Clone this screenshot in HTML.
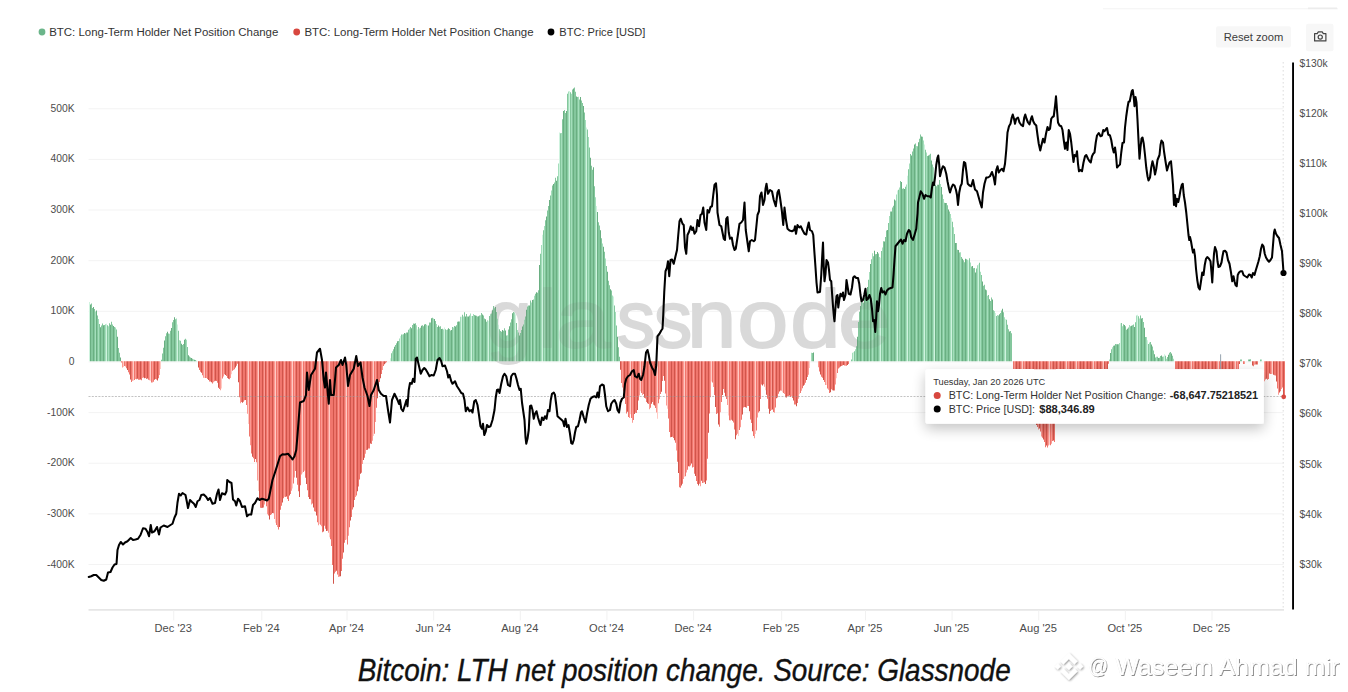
<!DOCTYPE html>
<html><head><meta charset="utf-8"><title>Bitcoin: LTH net position change</title>
<style>
html,body{margin:0;padding:0;background:#fff;}
body{width:1348px;height:692px;overflow:hidden;position:relative;font-family:"Liberation Sans",sans-serif;}
svg{position:absolute;left:0;top:0;display:block}
text{font-family:"Liberation Sans",sans-serif;}
.ax{font-size:10.3px;fill:#4c4c4c;}
.lg{font-size:11.46px;fill:#333;}
</style></head><body>
<svg width="1348" height="692" viewBox="0 0 1348 692">
<defs>
<filter id="tsh" x="-10%" y="-50%" width="120%" height="230%"><feGaussianBlur in="SourceAlpha" stdDeviation="7"/><feOffset dx="0" dy="5"/><feComponentTransfer><feFuncA type="linear" slope="0.24"/></feComponentTransfer><feMerge><feMergeNode/><feMergeNode in="SourceGraphic"/></feMerge></filter>
<filter id="wsh2" x="-20%" y="-20%" width="140%" height="150%"><feGaussianBlur in="SourceAlpha" stdDeviation="1.0"/><feOffset dx="0.5" dy="0.9"/><feComponentTransfer><feFuncA type="linear" slope="0.42"/></feComponentTransfer><feMerge><feMergeNode/><feMergeNode in="SourceGraphic"/></feMerge></filter>
<filter id="wsh" x="-5%" y="-20%" width="110%" height="150%"><feMorphology in="SourceAlpha" operator="erode" radius="0.3" result="thin"/><feGaussianBlur in="thin" stdDeviation="0.75" result="b1"/><feOffset in="b1" dx="0.8" dy="0.9" result="o1"/><feComponentTransfer in="o1" result="s1"><feFuncA type="linear" slope="0.45"/></feComponentTransfer><feMorphology in="thin" operator="dilate" radius="0.45" result="fat"/><feGaussianBlur in="fat" stdDeviation="0.45" result="b2"/><feComponentTransfer in="b2" result="s2"><feFuncA type="linear" slope="0.22"/></feComponentTransfer><feFlood flood-color="#fff"/><feComposite in2="thin" operator="in" result="w"/><feMerge><feMergeNode in="s1"/><feMergeNode in="s2"/><feMergeNode in="w"/></feMerge></filter>
</defs>
<rect width="1348" height="692" fill="#fff"/>

<rect x="1103" y="8.3" width="235" height="1" fill="#f3f3f3"/><rect x="1308" y="7.5" width="29" height="1.6" fill="#ececec"/>
<rect x="88.5" y="108.25" width="1195" height="1" fill="#f3f3f3"/>
<rect x="88.5" y="158.89" width="1195" height="1" fill="#f3f3f3"/>
<rect x="88.5" y="209.53" width="1195" height="1" fill="#f3f3f3"/>
<rect x="88.5" y="260.17" width="1195" height="1" fill="#f3f3f3"/>
<rect x="88.5" y="310.81" width="1195" height="1" fill="#f3f3f3"/>
<rect x="88.5" y="361.45" width="1195" height="1" fill="#f3f3f3"/>
<rect x="88.5" y="412.09" width="1195" height="1" fill="#f3f3f3"/>
<rect x="88.5" y="462.73" width="1195" height="1" fill="#f3f3f3"/>
<rect x="88.5" y="513.37" width="1195" height="1" fill="#f3f3f3"/>
<rect x="88.5" y="564.01" width="1195" height="1" fill="#f3f3f3"/>
<rect x="88.5" y="609.2" width="1195.5" height="1.4" fill="#e0e0e0"/>
<rect x="173.25" y="610.4" width="1" height="10" fill="#f1f1f1"/>
<rect x="261.31" y="610.4" width="1" height="10" fill="#f1f1f1"/>
<rect x="346.53" y="610.4" width="1" height="10" fill="#f1f1f1"/>
<rect x="433.16" y="610.4" width="1" height="10" fill="#f1f1f1"/>
<rect x="519.80" y="610.4" width="1" height="10" fill="#f1f1f1"/>
<rect x="606.44" y="610.4" width="1" height="10" fill="#f1f1f1"/>
<rect x="693.08" y="610.4" width="1" height="10" fill="#f1f1f1"/>
<rect x="781.14" y="610.4" width="1" height="10" fill="#f1f1f1"/>
<rect x="864.94" y="610.4" width="1" height="10" fill="#f1f1f1"/>
<rect x="951.57" y="610.4" width="1" height="10" fill="#f1f1f1"/>
<rect x="1038.21" y="610.4" width="1" height="10" fill="#f1f1f1"/>
<rect x="1124.85" y="610.4" width="1" height="10" fill="#f1f1f1"/>
<rect x="1211.49" y="610.4" width="1" height="10" fill="#f1f1f1"/>
<line x1="1283.2" y1="62" x2="1283.2" y2="609" stroke="#dcdcdc" stroke-width="1" stroke-dasharray="1.6 2.4"/>
<text transform="translate(486.6 347.2) scale(1.0 1)" font-size="82" fill="#e9e9e9" stroke="#e9e9e9" stroke-width="1.8" stroke-linejoin="round">g</text><text transform="translate(538.2 347.2) scale(1.0 1)" font-size="82" fill="#e9e9e9" stroke="#e9e9e9" stroke-width="1.8" stroke-linejoin="round">l</text><text transform="translate(555.8 347.2) scale(1.2 1)" font-size="82" fill="#e9e9e9" stroke="#e9e9e9" stroke-width="1.8" stroke-linejoin="round">a</text><text transform="translate(616.7 347.2) scale(0.94 1)" font-size="82" fill="#e9e9e9" stroke="#e9e9e9" stroke-width="1.8" stroke-linejoin="round">s</text><text transform="translate(653.7 347.2) scale(0.94 1)" font-size="82" fill="#e9e9e9" stroke="#e9e9e9" stroke-width="1.8" stroke-linejoin="round">s</text><text transform="translate(687.1 347.2) scale(1.08 1)" font-size="82" fill="#e9e9e9" stroke="#e9e9e9" stroke-width="1.8" stroke-linejoin="round">n</text><text transform="translate(737.2 347.2) scale(1.12 1)" font-size="82" fill="#e9e9e9" stroke="#e9e9e9" stroke-width="1.8" stroke-linejoin="round">o</text><text transform="translate(790.3 347.2) scale(1.1 1)" font-size="82" fill="#e9e9e9" stroke="#e9e9e9" stroke-width="1.8" stroke-linejoin="round">d</text><text transform="translate(838.0 347.2) scale(1.15 1)" font-size="82" fill="#e9e9e9" stroke="#e9e9e9" stroke-width="1.8" stroke-linejoin="round">e</text>
<path d="M90 361.25V304.5h1V361.25zM93 361.25V307.0h1V361.25zM96 361.25V310.5h1V361.25zM100 361.25V327.3h1V361.25zM103 361.25V325.2h1V361.25zM110 361.25V324.8h1V361.25zM113 361.25V325.9h1V361.25zM117 361.25V336.7h1V361.25zM120 361.25V357.6h1V361.25zM164 361.25V340.4h1V361.25zM167 361.25V331.7h1V361.25zM171 361.25V327.9h1V361.25zM174 361.25V317.3h1V361.25zM181 361.25V343.7h1V361.25zM184 361.25V339.8h1V361.25zM188 361.25V355.3h1V361.25zM191 361.25V358.1h1V361.25zM194 361.25V359.7h1V361.25zM394 361.25V346.7h1V361.25zM397 361.25V341.3h1V361.25zM404 361.25V332.9h1V361.25zM407 361.25V332.4h1V361.25zM411 361.25V328.2h1V361.25zM414 361.25V323.7h1V361.25zM421 361.25V325.8h1V361.25zM424 361.25V324.5h1V361.25zM428 361.25V325.5h1V361.25zM431 361.25V318.3h1V361.25zM434 361.25V319.1h1V361.25zM438 361.25V325.6h1V361.25zM441 361.25V329.1h1V361.25zM448 361.25V328.3h1V361.25zM451 361.25V330.0h1V361.25zM455 361.25V326.5h1V361.25zM458 361.25V321.4h1V361.25zM465 361.25V316.4h1V361.25zM468 361.25V316.6h1V361.25zM475 361.25V315.6h1V361.25zM478 361.25V316.2h1V361.25zM482 361.25V314.6h1V361.25zM485 361.25V319.3h1V361.25zM492 361.25V310.2h1V361.25zM495 361.25V306.9h1V361.25zM502 361.25V329.9h1V361.25zM505 361.25V330.5h1V361.25zM509 361.25V326.3h1V361.25zM512 361.25V313.2h1V361.25zM519 361.25V335.5h1V361.25zM522 361.25V326.6h1V361.25zM526 361.25V309.7h1V361.25zM529 361.25V305.4h1V361.25zM532 361.25V299.9h1V361.25zM536 361.25V292.2h1V361.25zM539 361.25V265.1h1V361.25zM546 361.25V216.5h1V361.25zM549 361.25V200.1h1V361.25zM553 361.25V184.1h1V361.25zM556 361.25V180.8h1V361.25zM563 361.25V111.0h1V361.25zM566 361.25V111.1h1V361.25zM573 361.25V88.5h1V361.25zM576 361.25V96.4h1V361.25zM580 361.25V97.1h1V361.25zM583 361.25V106.1h1V361.25zM590 361.25V157.8h1V361.25zM593 361.25V167.3h1V361.25zM597 361.25V212.0h1V361.25zM600 361.25V230.3h1V361.25zM603 361.25V246.7h1V361.25zM607 361.25V271.8h1V361.25zM610 361.25V289.2h1V361.25zM617 361.25V336.8h1V361.25zM813 361.25V352.6h1V361.25zM857 361.25V336.8h1V361.25zM860 361.25V306.1h1V361.25zM864 361.25V297.6h1V361.25zM867 361.25V287.1h1V361.25zM870 361.25V264.0h1V361.25zM874 361.25V250.7h1V361.25zM877 361.25V252.1h1V361.25zM884 361.25V241.5h1V361.25zM887 361.25V229.9h1V361.25zM891 361.25V211.4h1V361.25zM894 361.25V199.6h1V361.25zM901 361.25V181.9h1V361.25zM904 361.25V189.1h1V361.25zM911 361.25V155.6h1V361.25zM914 361.25V144.6h1V361.25zM918 361.25V142.2h1V361.25zM921 361.25V136.6h1V361.25zM928 361.25V155.4h1V361.25zM931 361.25V160.6h1V361.25zM935 361.25V184.8h1V361.25zM938 361.25V184.7h1V361.25zM941 361.25V187.1h1V361.25zM945 361.25V203.0h1V361.25zM948 361.25V209.4h1V361.25zM955 361.25V243.0h1V361.25zM958 361.25V249.9h1V361.25zM962 361.25V258.8h1V361.25zM965 361.25V258.8h1V361.25zM972 361.25V265.9h1V361.25zM975 361.25V272.4h1V361.25zM982 361.25V281.6h1V361.25zM985 361.25V289.6h1V361.25zM989 361.25V299.3h1V361.25zM992 361.25V299.6h1V361.25zM999 361.25V314.3h1V361.25zM1002 361.25V308.8h1V361.25zM1009 361.25V331.6h1V361.25zM1110 361.25V352.9h1V361.25zM1114 361.25V345.4h1V361.25zM1117 361.25V344.2h1V361.25zM1124 361.25V325.0h1V361.25zM1127 361.25V328.8h1V361.25zM1131 361.25V325.7h1V361.25zM1134 361.25V327.0h1V361.25zM1141 361.25V318.6h1V361.25zM1144 361.25V327.8h1V361.25zM1151 361.25V344.4h1V361.25zM1154 361.25V354.2h1V361.25zM1158 361.25V358.0h1V361.25zM1161 361.25V355.5h1V361.25zM1168 361.25V354.8h1V361.25zM1171 361.25V353.4h1V361.25zM1249 361.25V359.4h1V361.25z" fill="#6aaf82"/>
<path d="M91 361.25V303.6h1V361.25zM92 361.25V308.1h1V361.25zM94 361.25V309.0h1V361.25zM97 361.25V315.6h1V361.25zM99 361.25V324.1h1V361.25zM101 361.25V325.6h1V361.25zM102 361.25V323.5h1V361.25zM104 361.25V325.1h1V361.25zM107 361.25V325.3h1V361.25zM109 361.25V323.3h1V361.25zM111 361.25V321.7h1V361.25zM112 361.25V324.6h1V361.25zM114 361.25V327.1h1V361.25zM116 361.25V329.5h1V361.25zM118 361.25V347.9h1V361.25zM119 361.25V352.7h1V361.25zM161 361.25V359.8h1V361.25zM162 361.25V353.6h1V361.25zM163 361.25V347.8h1V361.25zM165 361.25V336.2h1V361.25zM166 361.25V333.3h1V361.25zM168 361.25V333.5h1V361.25zM170 361.25V330.8h1V361.25zM172 361.25V322.3h1V361.25zM173 361.25V319.9h1V361.25zM175 361.25V319.2h1V361.25zM178 361.25V330.7h1V361.25zM180 361.25V340.8h1V361.25zM182 361.25V345.1h1V361.25zM183 361.25V344.1h1V361.25zM185 361.25V338.7h1V361.25zM187 361.25V346.9h1V361.25zM189 361.25V356.5h1V361.25zM190 361.25V357.4h1V361.25zM192 361.25V358.8h1V361.25zM195 361.25V360.1h1V361.25zM391 361.25V353.3h1V361.25zM393 361.25V349.3h1V361.25zM395 361.25V345.1h1V361.25zM396 361.25V343.2h1V361.25zM398 361.25V340.9h1V361.25zM401 361.25V334.6h1V361.25zM403 361.25V334.2h1V361.25zM405 361.25V333.4h1V361.25zM406 361.25V332.4h1V361.25zM408 361.25V329.8h1V361.25zM410 361.25V327.1h1V361.25zM412 361.25V324.9h1V361.25zM413 361.25V323.5h1V361.25zM415 361.25V323.3h1V361.25zM418 361.25V327.1h1V361.25zM420 361.25V327.8h1V361.25zM422 361.25V325.2h1V361.25zM423 361.25V326.3h1V361.25zM425 361.25V323.9h1V361.25zM429 361.25V322.4h1V361.25zM430 361.25V322.4h1V361.25zM432 361.25V317.7h1V361.25zM435 361.25V321.1h1V361.25zM437 361.25V327.0h1V361.25zM439 361.25V326.7h1V361.25zM440 361.25V326.3h1V361.25zM442 361.25V328.7h1V361.25zM445 361.25V329.3h1V361.25zM447 361.25V329.4h1V361.25zM449 361.25V328.9h1V361.25zM450 361.25V330.4h1V361.25zM452 361.25V327.1h1V361.25zM454 361.25V325.9h1V361.25zM456 361.25V325.3h1V361.25zM457 361.25V321.8h1V361.25zM459 361.25V321.4h1V361.25zM462 361.25V314.8h1V361.25zM464 361.25V312.2h1V361.25zM466 361.25V313.9h1V361.25zM467 361.25V316.4h1V361.25zM469 361.25V315.4h1V361.25zM472 361.25V316.1h1V361.25zM474 361.25V315.0h1V361.25zM476 361.25V315.7h1V361.25zM477 361.25V316.5h1V361.25zM479 361.25V315.5h1V361.25zM481 361.25V313.0h1V361.25zM483 361.25V315.4h1V361.25zM484 361.25V318.4h1V361.25zM486 361.25V321.7h1V361.25zM489 361.25V315.9h1V361.25zM491 361.25V313.4h1V361.25zM493 361.25V306.1h1V361.25zM494 361.25V308.2h1V361.25zM496 361.25V312.1h1V361.25zM499 361.25V329.3h1V361.25zM500 361.25V331.0h1V361.25zM501 361.25V331.8h1V361.25zM503 361.25V330.7h1V361.25zM504 361.25V328.3h1V361.25zM506 361.25V335.4h1V361.25zM508 361.25V329.4h1V361.25zM510 361.25V322.5h1V361.25zM511 361.25V319.3h1V361.25zM513 361.25V312.0h1V361.25zM516 361.25V323.0h1V361.25zM518 361.25V332.6h1V361.25zM520 361.25V332.9h1V361.25zM521 361.25V330.0h1V361.25zM523 361.25V324.5h1V361.25zM525 361.25V316.5h1V361.25zM527 361.25V306.5h1V361.25zM528 361.25V305.5h1V361.25zM530 361.25V300.5h1V361.25zM533 361.25V299.4h1V361.25zM535 361.25V293.8h1V361.25zM537 361.25V292.8h1V361.25zM538 361.25V290.2h1V361.25zM540 361.25V253.7h1V361.25zM543 361.25V230.2h1V361.25zM545 361.25V220.2h1V361.25zM547 361.25V210.6h1V361.25zM548 361.25V206.0h1V361.25zM550 361.25V195.6h1V361.25zM552 361.25V185.5h1V361.25zM554 361.25V182.5h1V361.25zM555 361.25V177.8h1V361.25zM557 361.25V176.3h1V361.25zM560 361.25V133.3h1V361.25zM562 361.25V119.3h1V361.25zM564 361.25V109.9h1V361.25zM565 361.25V113.1h1V361.25zM567 361.25V93.7h1V361.25zM570 361.25V92.2h1V361.25zM572 361.25V89.4h1V361.25zM574 361.25V87.5h1V361.25zM575 361.25V91.7h1V361.25zM577 361.25V96.9h1V361.25zM579 361.25V99.4h1V361.25zM581 361.25V100.4h1V361.25zM582 361.25V103.1h1V361.25zM584 361.25V112.6h1V361.25zM587 361.25V129.5h1V361.25zM589 361.25V147.5h1V361.25zM591 361.25V165.7h1V361.25zM592 361.25V169.8h1V361.25zM594 361.25V186.3h1V361.25zM598 361.25V222.2h1V361.25zM599 361.25V225.6h1V361.25zM601 361.25V238.3h1V361.25zM604 361.25V251.8h1V361.25zM606 361.25V265.9h1V361.25zM608 361.25V280.7h1V361.25zM609 361.25V285.2h1V361.25zM611 361.25V290.6h1V361.25zM614 361.25V305.4h1V361.25zM616 361.25V325.4h1V361.25zM618 361.25V347.2h1V361.25zM619 361.25V356.7h1V361.25zM812 361.25V352.9h1V361.25zM851 361.25V359.5h1V361.25zM854 361.25V351.2h1V361.25zM856 361.25V346.3h1V361.25zM858 361.25V322.1h1V361.25zM859 361.25V311.8h1V361.25zM861 361.25V301.2h1V361.25zM863 361.25V302.9h1V361.25zM865 361.25V296.3h1V361.25zM866 361.25V292.5h1V361.25zM868 361.25V279.8h1V361.25zM871 361.25V259.2h1V361.25zM873 361.25V256.3h1V361.25zM875 361.25V254.3h1V361.25zM876 361.25V254.0h1V361.25zM878 361.25V253.6h1V361.25zM881 361.25V251.1h1V361.25zM883 361.25V241.2h1V361.25zM885 361.25V237.1h1V361.25zM886 361.25V230.4h1V361.25zM888 361.25V223.0h1V361.25zM890 361.25V211.6h1V361.25zM892 361.25V207.4h1V361.25zM893 361.25V205.7h1V361.25zM895 361.25V200.6h1V361.25zM898 361.25V189.8h1V361.25zM900 361.25V181.0h1V361.25zM902 361.25V188.7h1V361.25zM903 361.25V188.2h1V361.25zM905 361.25V186.8h1V361.25zM908 361.25V169.3h1V361.25zM910 361.25V153.9h1V361.25zM912 361.25V151.4h1V361.25zM913 361.25V148.6h1V361.25zM915 361.25V143.6h1V361.25zM917 361.25V146.3h1V361.25zM919 361.25V138.8h1V361.25zM920 361.25V134.6h1V361.25zM922 361.25V136.8h1V361.25zM925 361.25V149.8h1V361.25zM927 361.25V155.9h1V361.25zM929 361.25V154.7h1V361.25zM930 361.25V153.8h1V361.25zM932 361.25V164.4h1V361.25zM936 361.25V186.2h1V361.25zM937 361.25V184.7h1V361.25zM939 361.25V180.0h1V361.25zM942 361.25V194.4h1V361.25zM944 361.25V202.7h1V361.25zM946 361.25V202.9h1V361.25zM947 361.25V205.3h1V361.25zM949 361.25V211.4h1V361.25zM952 361.25V221.7h1V361.25zM954 361.25V234.1h1V361.25zM956 361.25V243.1h1V361.25zM957 361.25V249.8h1V361.25zM959 361.25V252.4h1V361.25zM961 361.25V257.1h1V361.25zM963 361.25V260.3h1V361.25zM964 361.25V262.3h1V361.25zM966 361.25V259.3h1V361.25zM969 361.25V258.2h1V361.25zM971 361.25V266.4h1V361.25zM973 361.25V268.2h1V361.25zM974 361.25V267.9h1V361.25zM976 361.25V268.6h1V361.25zM979 361.25V262.8h1V361.25zM981 361.25V275.0h1V361.25zM983 361.25V285.7h1V361.25zM984 361.25V284.7h1V361.25zM986 361.25V290.3h1V361.25zM988 361.25V295.1h1V361.25zM990 361.25V300.9h1V361.25zM991 361.25V297.6h1V361.25zM993 361.25V310.3h1V361.25zM996 361.25V316.1h1V361.25zM998 361.25V315.4h1V361.25zM1000 361.25V313.1h1V361.25zM1001 361.25V310.4h1V361.25zM1003 361.25V312.3h1V361.25zM1006 361.25V319.7h1V361.25zM1007 361.25V324.8h1V361.25zM1008 361.25V329.3h1V361.25zM1010 361.25V331.0h1V361.25zM1011 361.25V333.2h1V361.25zM1111 361.25V349.2h1V361.25zM1113 361.25V345.8h1V361.25zM1115 361.25V344.1h1V361.25zM1116 361.25V344.2h1V361.25zM1118 361.25V344.2h1V361.25zM1121 361.25V323.1h1V361.25zM1123 361.25V324.3h1V361.25zM1125 361.25V326.3h1V361.25zM1126 361.25V329.8h1V361.25zM1128 361.25V327.4h1V361.25zM1130 361.25V326.3h1V361.25zM1132 361.25V325.3h1V361.25zM1133 361.25V324.6h1V361.25zM1135 361.25V322.3h1V361.25zM1138 361.25V316.3h1V361.25zM1140 361.25V315.6h1V361.25zM1142 361.25V317.9h1V361.25zM1143 361.25V322.1h1V361.25zM1145 361.25V337.0h1V361.25zM1148 361.25V343.9h1V361.25zM1150 361.25V341.9h1V361.25zM1152 361.25V346.5h1V361.25zM1153 361.25V350.5h1V361.25zM1155 361.25V357.5h1V361.25zM1157 361.25V356.8h1V361.25zM1159 361.25V357.8h1V361.25zM1160 361.25V356.1h1V361.25zM1162 361.25V356.7h1V361.25zM1165 361.25V355.8h1V361.25zM1167 361.25V357.1h1V361.25zM1169 361.25V352.8h1V361.25zM1170 361.25V351.9h1V361.25zM1172 361.25V355.8h1V361.25zM1240 361.25V359.4h1V361.25zM1241 361.25V359.5h1V361.25zM1248 361.25V359.5h1V361.25zM1250 361.25V359.3h1V361.25zM1260 361.25V359.4h1V361.25z" fill="#84c79d"/>
<path d="M95 361.25V311.6h1V361.25zM98 361.25V319.0h1V361.25zM105 361.25V324.3h1V361.25zM108 361.25V326.2h1V361.25zM115 361.25V327.5h1V361.25zM169 361.25V333.8h1V361.25zM176 361.25V318.6h1V361.25zM179 361.25V340.2h1V361.25zM186 361.25V339.8h1V361.25zM193 361.25V359.2h1V361.25zM196 361.25V360.7h1V361.25zM392 361.25V351.2h1V361.25zM399 361.25V338.6h1V361.25zM402 361.25V334.6h1V361.25zM409 361.25V328.4h1V361.25zM416 361.25V325.2h1V361.25zM419 361.25V328.4h1V361.25zM426 361.25V324.8h1V361.25zM433 361.25V318.4h1V361.25zM436 361.25V324.1h1V361.25zM443 361.25V329.6h1V361.25zM446 361.25V329.9h1V361.25zM453 361.25V327.5h1V361.25zM460 361.25V316.8h1V361.25zM463 361.25V316.6h1V361.25zM470 361.25V313.5h1V361.25zM473 361.25V314.1h1V361.25zM480 361.25V315.2h1V361.25zM487 361.25V320.3h1V361.25zM490 361.25V314.2h1V361.25zM497 361.25V318.8h1V361.25zM507 361.25V335.2h1V361.25zM514 361.25V312.6h1V361.25zM517 361.25V330.0h1V361.25zM524 361.25V319.7h1V361.25zM531 361.25V302.4h1V361.25zM534 361.25V295.7h1V361.25zM541 361.25V245.0h1V361.25zM544 361.25V225.9h1V361.25zM551 361.25V190.4h1V361.25zM558 361.25V163.4h1V361.25zM561 361.25V133.0h1V361.25zM568 361.25V91.4h1V361.25zM571 361.25V93.8h1V361.25zM578 361.25V96.7h1V361.25zM585 361.25V120.1h1V361.25zM588 361.25V136.9h1V361.25zM595 361.25V197.2h1V361.25zM602 361.25V243.5h1V361.25zM605 361.25V258.4h1V361.25zM612 361.25V295.4h1V361.25zM615 361.25V312.0h1V361.25zM811 361.25V352.7h1V361.25zM852 361.25V352.8h1V361.25zM855 361.25V349.3h1V361.25zM862 361.25V301.2h1V361.25zM869 361.25V272.0h1V361.25zM872 361.25V253.3h1V361.25zM879 361.25V257.1h1V361.25zM882 361.25V247.6h1V361.25zM889 361.25V215.9h1V361.25zM896 361.25V194.6h1V361.25zM899 361.25V187.4h1V361.25zM906 361.25V184.5h1V361.25zM909 361.25V163.4h1V361.25zM916 361.25V146.1h1V361.25zM923 361.25V140.4h1V361.25zM926 361.25V152.6h1V361.25zM933 361.25V167.3h1V361.25zM940 361.25V184.1h1V361.25zM943 361.25V199.0h1V361.25zM950 361.25V214.0h1V361.25zM953 361.25V227.2h1V361.25zM960 361.25V252.3h1V361.25zM967 361.25V259.7h1V361.25zM970 361.25V262.5h1V361.25zM977 361.25V265.3h1V361.25zM980 361.25V271.7h1V361.25zM987 361.25V295.7h1V361.25zM994 361.25V311.1h1V361.25zM997 361.25V314.9h1V361.25zM1004 361.25V317.3h1V361.25zM1109 361.25V359.5h1V361.25zM1112 361.25V347.3h1V361.25zM1119 361.25V343.0h1V361.25zM1122 361.25V326.3h1V361.25zM1129 361.25V324.9h1V361.25zM1136 361.25V315.5h1V361.25zM1139 361.25V318.5h1V361.25zM1146 361.25V337.1h1V361.25zM1149 361.25V342.6h1V361.25zM1156 361.25V356.8h1V361.25zM1163 361.25V356.6h1V361.25zM1166 361.25V358.8h1V361.25zM1173 361.25V358.8h1V361.25zM1261 361.25V359.6h1V361.25z" fill="#a4debb"/>
<path d="M89 361.25V301.9h1V361.25zM106 361.25V323.7h1V361.25zM177 361.25V324.5h1V361.25zM390 361.25V358.2h1V361.25zM400 361.25V336.1h1V361.25zM417 361.25V329.6h1V361.25zM427 361.25V325.6h1V361.25zM444 361.25V327.6h1V361.25zM461 361.25V316.7h1V361.25zM471 361.25V315.9h1V361.25zM488 361.25V320.7h1V361.25zM498 361.25V324.7h1V361.25zM515 361.25V314.3h1V361.25zM542 361.25V234.8h1V361.25zM559 361.25V132.4h1V361.25zM569 361.25V90.9h1V361.25zM586 361.25V127.6h1V361.25zM596 361.25V205.9h1V361.25zM613 361.25V296.5h1V361.25zM853 361.25V352.1h1V361.25zM880 361.25V257.7h1V361.25zM897 361.25V190.4h1V361.25zM907 361.25V175.8h1V361.25zM924 361.25V144.6h1V361.25zM934 361.25V176.7h1V361.25zM951 361.25V217.9h1V361.25zM968 361.25V260.3h1V361.25zM978 361.25V264.2h1V361.25zM995 361.25V313.0h1V361.25zM1005 361.25V319.1h1V361.25zM1120 361.25V323.3h1V361.25zM1137 361.25V314.8h1V361.25zM1147 361.25V340.3h1V361.25zM1164 361.25V354.2h1V361.25z" fill="#cff3df"/>
<path d="M127 361.25V370.1h1V361.25zM130 361.25V379.4h1V361.25zM137 361.25V378.8h1V361.25zM140 361.25V379.5h1V361.25zM144 361.25V378.3h1V361.25zM147 361.25V378.5h1V361.25zM154 361.25V379.8h1V361.25zM157 361.25V380.6h1V361.25zM198 361.25V367.5h1V361.25zM201 361.25V372.8h1V361.25zM208 361.25V380.0h1V361.25zM211 361.25V382.3h1V361.25zM215 361.25V380.7h1V361.25zM218 361.25V387.7h1V361.25zM225 361.25V374.9h1V361.25zM228 361.25V378.8h1V361.25zM235 361.25V367.5h1V361.25zM238 361.25V382.3h1V361.25zM242 361.25V402.8h1V361.25zM245 361.25V399.9h1V361.25zM252 361.25V456.7h1V361.25zM255 361.25V459.1h1V361.25zM259 361.25V500.7h1V361.25zM262 361.25V507.8h1V361.25zM265 361.25V501.0h1V361.25zM269 361.25V519.4h1V361.25zM272 361.25V512.9h1V361.25zM279 361.25V527.1h1V361.25zM282 361.25V502.4h1V361.25zM286 361.25V496.4h1V361.25zM289 361.25V495.5h1V361.25zM296 361.25V477.8h1V361.25zM299 361.25V497.1h1V361.25zM306 361.25V483.9h1V361.25zM309 361.25V498.9h1V361.25zM313 361.25V507.4h1V361.25zM316 361.25V515.5h1V361.25zM323 361.25V531.6h1V361.25zM326 361.25V531.0h1V361.25zM333 361.25V583.8h1V361.25zM336 361.25V570.7h1V361.25zM340 361.25V576.3h1V361.25zM343 361.25V552.4h1V361.25zM350 361.25V520.4h1V361.25zM353 361.25V507.2h1V361.25zM357 361.25V491.2h1V361.25zM360 361.25V473.7h1V361.25zM363 361.25V460.0h1V361.25zM367 361.25V449.7h1V361.25zM370 361.25V443.4h1V361.25zM377 361.25V398.3h1V361.25zM380 361.25V378.2h1V361.25zM384 361.25V364.2h1V361.25zM620 361.25V369.8h1V361.25zM624 361.25V398.0h1V361.25zM627 361.25V411.7h1V361.25zM634 361.25V414.0h1V361.25zM637 361.25V409.9h1V361.25zM644 361.25V397.8h1V361.25zM647 361.25V403.3h1V361.25zM651 361.25V403.8h1V361.25zM654 361.25V405.6h1V361.25zM661 361.25V391.7h1V361.25zM664 361.25V380.7h1V361.25zM671 361.25V437.0h1V361.25zM674 361.25V440.3h1V361.25zM678 361.25V472.9h1V361.25zM681 361.25V485.5h1V361.25zM688 361.25V466.3h1V361.25zM691 361.25V463.5h1V361.25zM695 361.25V475.9h1V361.25zM698 361.25V485.5h1V361.25zM701 361.25V480.7h1V361.25zM705 361.25V484.1h1V361.25zM708 361.25V432.8h1V361.25zM715 361.25V407.1h1V361.25zM718 361.25V424.6h1V361.25zM722 361.25V394.9h1V361.25zM725 361.25V396.2h1V361.25zM732 361.25V420.8h1V361.25zM735 361.25V439.2h1V361.25zM742 361.25V414.5h1V361.25zM745 361.25V407.3h1V361.25zM749 361.25V411.2h1V361.25zM752 361.25V431.3h1V361.25zM759 361.25V411.2h1V361.25zM762 361.25V385.4h1V361.25zM766 361.25V394.7h1V361.25zM769 361.25V413.7h1V361.25zM772 361.25V409.5h1V361.25zM776 361.25V398.3h1V361.25zM779 361.25V391.6h1V361.25zM786 361.25V397.6h1V361.25zM789 361.25V395.4h1V361.25zM793 361.25V400.6h1V361.25zM796 361.25V406.2h1V361.25zM803 361.25V385.7h1V361.25zM806 361.25V379.9h1V361.25zM820 361.25V374.6h1V361.25zM823 361.25V380.0h1V361.25zM830 361.25V392.3h1V361.25zM833 361.25V390.4h1V361.25zM840 361.25V366.5h1V361.25zM843 361.25V365.1h1V361.25zM847 361.25V365.0h1V361.25zM1016 361.25V369.0h1V361.25zM1019 361.25V369.0h1V361.25zM1026 361.25V369.0h1V361.25zM1029 361.25V369.0h1V361.25zM1033 361.25V369.0h1V361.25zM1036 361.25V425.0h1V361.25zM1039 361.25V428.6h1V361.25zM1043 361.25V439.5h1V361.25zM1046 361.25V445.4h1V361.25zM1053 361.25V440.4h1V361.25zM1056 361.25V369.0h1V361.25zM1060 361.25V369.0h1V361.25zM1063 361.25V369.0h1V361.25zM1070 361.25V369.0h1V361.25zM1073 361.25V369.0h1V361.25zM1080 361.25V369.0h1V361.25zM1083 361.25V369.0h1V361.25zM1087 361.25V369.0h1V361.25zM1090 361.25V369.0h1V361.25zM1097 361.25V369.0h1V361.25zM1100 361.25V369.0h1V361.25zM1104 361.25V369.0h1V361.25zM1107 361.25V369.0h1V361.25zM1178 361.25V369.3h1V361.25zM1181 361.25V369.3h1V361.25zM1185 361.25V369.3h1V361.25zM1188 361.25V369.3h1V361.25zM1195 361.25V369.3h1V361.25zM1198 361.25V369.3h1V361.25zM1202 361.25V369.3h1V361.25zM1205 361.25V369.3h1V361.25zM1208 361.25V369.3h1V361.25zM1212 361.25V369.3h1V361.25zM1215 361.25V369.3h1V361.25zM1222 361.25V369.3h1V361.25zM1225 361.25V369.3h1V361.25zM1229 361.25V369.3h1V361.25zM1232 361.25V369.3h1V361.25zM1239 361.25V363.9h1V361.25zM1252 361.25V365.6h1V361.25zM1256 361.25V364.6h1V361.25zM1266 361.25V378.7h1V361.25zM1269 361.25V373.4h1V361.25zM1273 361.25V374.7h1V361.25zM1276 361.25V381.6h1V361.25zM1279 361.25V392.5h1V361.25zM1283 361.25V396.8h1V361.25z" fill="#d1554b"/>
<path d="M121 361.25V362.5h1V361.25zM124 361.25V366.1h1V361.25zM126 361.25V368.2h1V361.25zM128 361.25V372.3h1V361.25zM129 361.25V374.6h1V361.25zM131 361.25V382.0h1V361.25zM134 361.25V380.1h1V361.25zM136 361.25V379.2h1V361.25zM138 361.25V379.7h1V361.25zM139 361.25V379.8h1V361.25zM141 361.25V380.3h1V361.25zM143 361.25V377.6h1V361.25zM145 361.25V377.9h1V361.25zM146 361.25V378.9h1V361.25zM148 361.25V379.8h1V361.25zM151 361.25V382.5h1V361.25zM153 361.25V381.7h1V361.25zM155 361.25V379.1h1V361.25zM156 361.25V379.4h1V361.25zM158 361.25V378.2h1V361.25zM199 361.25V369.9h1V361.25zM200 361.25V371.8h1V361.25zM202 361.25V375.2h1V361.25zM205 361.25V377.9h1V361.25zM207 361.25V379.0h1V361.25zM209 361.25V381.4h1V361.25zM210 361.25V381.6h1V361.25zM212 361.25V383.4h1V361.25zM214 361.25V381.2h1V361.25zM216 361.25V381.1h1V361.25zM217 361.25V382.8h1V361.25zM219 361.25V388.9h1V361.25zM222 361.25V378.6h1V361.25zM224 361.25V374.3h1V361.25zM226 361.25V376.1h1V361.25zM227 361.25V378.1h1V361.25zM229 361.25V379.2h1V361.25zM232 361.25V370.8h1V361.25zM234 361.25V369.2h1V361.25zM236 361.25V365.7h1V361.25zM237 361.25V363.8h1V361.25zM239 361.25V397.2h1V361.25zM241 361.25V401.9h1V361.25zM243 361.25V401.7h1V361.25zM244 361.25V400.3h1V361.25zM246 361.25V405.1h1V361.25zM249 361.25V436.4h1V361.25zM251 361.25V453.4h1V361.25zM253 361.25V458.3h1V361.25zM254 361.25V462.1h1V361.25zM256 361.25V462.2h1V361.25zM260 361.25V507.7h1V361.25zM261 361.25V508.1h1V361.25zM263 361.25V507.5h1V361.25zM266 361.25V506.3h1V361.25zM268 361.25V515.4h1V361.25zM270 361.25V515.0h1V361.25zM271 361.25V514.2h1V361.25zM273 361.25V513.3h1V361.25zM276 361.25V524.9h1V361.25zM278 361.25V529.4h1V361.25zM280 361.25V509.7h1V361.25zM281 361.25V505.7h1V361.25zM283 361.25V498.2h1V361.25zM285 361.25V497.1h1V361.25zM287 361.25V499.1h1V361.25zM288 361.25V501.0h1V361.25zM290 361.25V494.0h1V361.25zM293 361.25V483.5h1V361.25zM295 361.25V471.1h1V361.25zM297 361.25V484.7h1V361.25zM298 361.25V491.3h1V361.25zM300 361.25V485.3h1V361.25zM303 361.25V472.1h1V361.25zM305 361.25V477.8h1V361.25zM307 361.25V490.2h1V361.25zM308 361.25V497.1h1V361.25zM310 361.25V499.3h1V361.25zM312 361.25V503.5h1V361.25zM314 361.25V511.3h1V361.25zM315 361.25V511.8h1V361.25zM317 361.25V522.3h1V361.25zM320 361.25V524.8h1V361.25zM322 361.25V532.3h1V361.25zM324 361.25V525.7h1V361.25zM325 361.25V528.7h1V361.25zM327 361.25V530.8h1V361.25zM330 361.25V539.3h1V361.25zM331 361.25V546.0h1V361.25zM332 361.25V564.9h1V361.25zM334 361.25V573.6h1V361.25zM335 361.25V571.8h1V361.25zM337 361.25V574.4h1V361.25zM339 361.25V576.4h1V361.25zM341 361.25V570.9h1V361.25zM342 361.25V558.7h1V361.25zM344 361.25V542.7h1V361.25zM347 361.25V544.6h1V361.25zM349 361.25V527.3h1V361.25zM351 361.25V517.1h1V361.25zM352 361.25V509.6h1V361.25zM354 361.25V500.0h1V361.25zM356 361.25V495.4h1V361.25zM358 361.25V486.4h1V361.25zM359 361.25V479.6h1V361.25zM361 361.25V472.7h1V361.25zM364 361.25V457.7h1V361.25zM366 361.25V450.0h1V361.25zM368 361.25V448.5h1V361.25zM369 361.25V448.4h1V361.25zM371 361.25V444.0h1V361.25zM374 361.25V433.8h1V361.25zM376 361.25V407.8h1V361.25zM378 361.25V388.5h1V361.25zM379 361.25V381.9h1V361.25zM381 361.25V374.0h1V361.25zM383 361.25V366.1h1V361.25zM385 361.25V363.2h1V361.25zM386 361.25V362.2h1V361.25zM621 361.25V383.1h1V361.25zM623 361.25V391.4h1V361.25zM625 361.25V404.1h1V361.25zM626 361.25V413.4h1V361.25zM628 361.25V416.9h1V361.25zM631 361.25V418.0h1V361.25zM633 361.25V420.0h1V361.25zM635 361.25V412.8h1V361.25zM636 361.25V413.0h1V361.25zM638 361.25V400.5h1V361.25zM641 361.25V393.1h1V361.25zM643 361.25V394.1h1V361.25zM645 361.25V398.5h1V361.25zM646 361.25V401.9h1V361.25zM648 361.25V403.9h1V361.25zM650 361.25V407.7h1V361.25zM652 361.25V401.9h1V361.25zM653 361.25V404.7h1V361.25zM655 361.25V408.1h1V361.25zM658 361.25V403.2h1V361.25zM660 361.25V394.1h1V361.25zM662 361.25V380.9h1V361.25zM663 361.25V376.1h1V361.25zM665 361.25V393.5h1V361.25zM668 361.25V418.5h1V361.25zM669 361.25V431.9h1V361.25zM670 361.25V437.2h1V361.25zM672 361.25V436.8h1V361.25zM673 361.25V438.1h1V361.25zM675 361.25V442.7h1V361.25zM677 361.25V461.7h1V361.25zM679 361.25V487.3h1V361.25zM680 361.25V487.7h1V361.25zM682 361.25V483.8h1V361.25zM685 361.25V476.2h1V361.25zM687 361.25V469.7h1V361.25zM689 361.25V466.4h1V361.25zM690 361.25V465.5h1V361.25zM692 361.25V467.4h1V361.25zM694 361.25V473.8h1V361.25zM696 361.25V480.9h1V361.25zM697 361.25V483.9h1V361.25zM699 361.25V483.7h1V361.25zM702 361.25V483.0h1V361.25zM704 361.25V482.3h1V361.25zM706 361.25V480.5h1V361.25zM707 361.25V458.8h1V361.25zM709 361.25V413.5h1V361.25zM712 361.25V382.4h1V361.25zM714 361.25V395.0h1V361.25zM716 361.25V413.9h1V361.25zM717 361.25V413.3h1V361.25zM719 361.25V426.7h1V361.25zM721 361.25V402.0h1V361.25zM723 361.25V389.1h1V361.25zM724 361.25V392.8h1V361.25zM726 361.25V399.1h1V361.25zM729 361.25V420.2h1V361.25zM731 361.25V419.8h1V361.25zM733 361.25V422.4h1V361.25zM734 361.25V429.4h1V361.25zM736 361.25V435.2h1V361.25zM739 361.25V430.1h1V361.25zM741 361.25V419.7h1V361.25zM743 361.25V407.4h1V361.25zM744 361.25V406.9h1V361.25zM746 361.25V407.8h1V361.25zM748 361.25V406.0h1V361.25zM750 361.25V419.4h1V361.25zM751 361.25V423.1h1V361.25zM753 361.25V436.1h1V361.25zM756 361.25V430.5h1V361.25zM758 361.25V412.6h1V361.25zM760 361.25V399.1h1V361.25zM761 361.25V384.6h1V361.25zM763 361.25V384.3h1V361.25zM767 361.25V398.8h1V361.25zM768 361.25V408.7h1V361.25zM770 361.25V411.1h1V361.25zM773 361.25V411.9h1V361.25zM775 361.25V407.6h1V361.25zM777 361.25V397.6h1V361.25zM778 361.25V393.7h1V361.25zM780 361.25V390.6h1V361.25zM783 361.25V392.9h1V361.25zM785 361.25V397.3h1V361.25zM787 361.25V396.5h1V361.25zM788 361.25V395.9h1V361.25zM790 361.25V397.1h1V361.25zM792 361.25V398.1h1V361.25zM794 361.25V404.5h1V361.25zM795 361.25V404.6h1V361.25zM797 361.25V403.1h1V361.25zM800 361.25V393.0h1V361.25zM802 361.25V388.3h1V361.25zM804 361.25V384.7h1V361.25zM805 361.25V382.8h1V361.25zM807 361.25V377.0h1V361.25zM819 361.25V371.6h1V361.25zM821 361.25V376.7h1V361.25zM822 361.25V377.8h1V361.25zM824 361.25V381.9h1V361.25zM827 361.25V388.4h1V361.25zM829 361.25V392.9h1V361.25zM831 361.25V389.3h1V361.25zM832 361.25V390.2h1V361.25zM834 361.25V390.6h1V361.25zM837 361.25V373.0h1V361.25zM838 361.25V368.6h1V361.25zM839 361.25V367.4h1V361.25zM841 361.25V366.1h1V361.25zM842 361.25V365.5h1V361.25zM844 361.25V365.6h1V361.25zM846 361.25V365.8h1V361.25zM848 361.25V364.0h1V361.25zM1013 361.25V369.0h1V361.25zM1015 361.25V369.0h1V361.25zM1017 361.25V369.0h1V361.25zM1018 361.25V369.0h1V361.25zM1020 361.25V369.0h1V361.25zM1023 361.25V369.0h1V361.25zM1025 361.25V369.0h1V361.25zM1027 361.25V369.0h1V361.25zM1028 361.25V369.0h1V361.25zM1030 361.25V369.0h1V361.25zM1032 361.25V369.0h1V361.25zM1034 361.25V411.0h1V361.25zM1035 361.25V422.6h1V361.25zM1037 361.25V427.0h1V361.25zM1040 361.25V431.4h1V361.25zM1042 361.25V437.7h1V361.25zM1044 361.25V442.1h1V361.25zM1045 361.25V447.2h1V361.25zM1047 361.25V447.6h1V361.25zM1050 361.25V445.3h1V361.25zM1052 361.25V440.9h1V361.25zM1054 361.25V442.0h1V361.25zM1055 361.25V419.8h1V361.25zM1057 361.25V369.0h1V361.25zM1059 361.25V369.0h1V361.25zM1061 361.25V369.0h1V361.25zM1062 361.25V369.0h1V361.25zM1064 361.25V369.0h1V361.25zM1067 361.25V369.0h1V361.25zM1069 361.25V369.0h1V361.25zM1071 361.25V369.0h1V361.25zM1072 361.25V369.0h1V361.25zM1074 361.25V369.0h1V361.25zM1077 361.25V369.0h1V361.25zM1079 361.25V369.0h1V361.25zM1081 361.25V369.0h1V361.25zM1082 361.25V369.0h1V361.25zM1084 361.25V369.0h1V361.25zM1086 361.25V369.0h1V361.25zM1088 361.25V369.0h1V361.25zM1089 361.25V369.0h1V361.25zM1091 361.25V369.0h1V361.25zM1094 361.25V369.0h1V361.25zM1096 361.25V369.0h1V361.25zM1098 361.25V369.0h1V361.25zM1099 361.25V369.0h1V361.25zM1101 361.25V369.0h1V361.25zM1105 361.25V369.0h1V361.25zM1106 361.25V369.0h1V361.25zM1108 361.25V363.8h1V361.25zM1175 361.25V369.3h1V361.25zM1176 361.25V369.3h1V361.25zM1177 361.25V369.3h1V361.25zM1179 361.25V369.3h1V361.25zM1180 361.25V369.3h1V361.25zM1182 361.25V369.3h1V361.25zM1184 361.25V369.3h1V361.25zM1186 361.25V369.3h1V361.25zM1187 361.25V369.3h1V361.25zM1189 361.25V369.3h1V361.25zM1192 361.25V369.3h1V361.25zM1194 361.25V369.3h1V361.25zM1196 361.25V369.3h1V361.25zM1197 361.25V369.3h1V361.25zM1199 361.25V369.3h1V361.25zM1201 361.25V369.3h1V361.25zM1203 361.25V369.3h1V361.25zM1204 361.25V369.3h1V361.25zM1206 361.25V369.3h1V361.25zM1209 361.25V369.3h1V361.25zM1211 361.25V369.3h1V361.25zM1213 361.25V369.3h1V361.25zM1214 361.25V369.3h1V361.25zM1216 361.25V369.3h1V361.25zM1219 361.25V369.3h1V361.25zM1221 361.25V369.3h1V361.25zM1223 361.25V369.3h1V361.25zM1224 361.25V369.3h1V361.25zM1226 361.25V369.3h1V361.25zM1228 361.25V369.3h1V361.25zM1230 361.25V369.3h1V361.25zM1231 361.25V369.3h1V361.25zM1233 361.25V369.3h1V361.25zM1236 361.25V369.3h1V361.25zM1238 361.25V369.3h1V361.25zM1243 361.25V364.0h1V361.25zM1253 361.25V366.2h1V361.25zM1255 361.25V364.6h1V361.25zM1257 361.25V364.5h1V361.25zM1265 361.25V379.6h1V361.25zM1267 361.25V379.8h1V361.25zM1268 361.25V379.1h1V361.25zM1270 361.25V374.0h1V361.25zM1274 361.25V375.2h1V361.25zM1275 361.25V375.5h1V361.25zM1277 361.25V388.6h1V361.25zM1280 361.25V391.3h1V361.25zM1282 361.25V387.5h1V361.25zM1284 361.25V395.3h1V361.25z" fill="#f0766d"/>
<path d="M122 361.25V367.4h1V361.25zM125 361.25V366.6h1V361.25zM132 361.25V380.8h1V361.25zM135 361.25V379.0h1V361.25zM142 361.25V378.0h1V361.25zM149 361.25V380.3h1V361.25zM152 361.25V382.6h1V361.25zM159 361.25V375.0h1V361.25zM203 361.25V377.7h1V361.25zM206 361.25V378.0h1V361.25zM213 361.25V382.2h1V361.25zM220 361.25V390.2h1V361.25zM223 361.25V376.6h1V361.25zM230 361.25V378.0h1V361.25zM233 361.25V370.0h1V361.25zM240 361.25V403.2h1V361.25zM247 361.25V413.7h1V361.25zM250 361.25V445.3h1V361.25zM257 361.25V480.6h1V361.25zM264 361.25V504.4h1V361.25zM267 361.25V514.3h1V361.25zM274 361.25V518.9h1V361.25zM277 361.25V527.0h1V361.25zM284 361.25V496.8h1V361.25zM291 361.25V490.8h1V361.25zM294 361.25V477.5h1V361.25zM301 361.25V474.4h1V361.25zM304 361.25V470.8h1V361.25zM311 361.25V504.4h1V361.25zM318 361.25V525.2h1V361.25zM321 361.25V526.2h1V361.25zM328 361.25V532.7h1V361.25zM338 361.25V576.9h1V361.25zM345 361.25V540.1h1V361.25zM348 361.25V535.7h1V361.25zM355 361.25V496.9h1V361.25zM362 361.25V463.9h1V361.25zM365 361.25V453.8h1V361.25zM372 361.25V440.7h1V361.25zM375 361.25V422.0h1V361.25zM382 361.25V370.0h1V361.25zM622 361.25V387.5h1V361.25zM629 361.25V417.9h1V361.25zM632 361.25V422.7h1V361.25zM639 361.25V395.4h1V361.25zM642 361.25V395.1h1V361.25zM649 361.25V409.2h1V361.25zM656 361.25V412.5h1V361.25zM659 361.25V399.3h1V361.25zM666 361.25V405.5h1V361.25zM676 361.25V450.4h1V361.25zM683 361.25V479.1h1V361.25zM686 361.25V472.6h1V361.25zM693 361.25V466.9h1V361.25zM700 361.25V486.2h1V361.25zM703 361.25V482.8h1V361.25zM710 361.25V397.2h1V361.25zM713 361.25V387.0h1V361.25zM720 361.25V412.3h1V361.25zM727 361.25V404.9h1V361.25zM730 361.25V420.5h1V361.25zM737 361.25V433.8h1V361.25zM740 361.25V427.2h1V361.25zM747 361.25V406.0h1V361.25zM754 361.25V438.3h1V361.25zM757 361.25V417.4h1V361.25zM764 361.25V386.7h1V361.25zM771 361.25V410.1h1V361.25zM774 361.25V412.8h1V361.25zM781 361.25V390.7h1V361.25zM784 361.25V394.0h1V361.25zM791 361.25V396.1h1V361.25zM798 361.25V398.7h1V361.25zM801 361.25V390.8h1V361.25zM808 361.25V374.7h1V361.25zM818 361.25V367.2h1V361.25zM825 361.25V384.9h1V361.25zM828 361.25V389.7h1V361.25zM835 361.25V384.4h1V361.25zM845 361.25V365.7h1V361.25zM1014 361.25V369.0h1V361.25zM1021 361.25V369.0h1V361.25zM1024 361.25V369.0h1V361.25zM1031 361.25V369.0h1V361.25zM1038 361.25V429.5h1V361.25zM1041 361.25V436.6h1V361.25zM1048 361.25V445.5h1V361.25zM1051 361.25V443.8h1V361.25zM1058 361.25V369.0h1V361.25zM1065 361.25V369.0h1V361.25zM1068 361.25V369.0h1V361.25zM1075 361.25V369.0h1V361.25zM1078 361.25V369.0h1V361.25zM1085 361.25V369.0h1V361.25zM1092 361.25V369.0h1V361.25zM1095 361.25V369.0h1V361.25zM1102 361.25V369.0h1V361.25zM1183 361.25V369.3h1V361.25zM1190 361.25V369.3h1V361.25zM1193 361.25V369.3h1V361.25zM1200 361.25V369.3h1V361.25zM1207 361.25V369.3h1V361.25zM1210 361.25V369.3h1V361.25zM1217 361.25V369.3h1V361.25zM1220 361.25V369.3h1V361.25zM1227 361.25V369.3h1V361.25zM1234 361.25V369.3h1V361.25zM1237 361.25V369.3h1V361.25zM1244 361.25V364.0h1V361.25zM1254 361.25V364.7h1V361.25zM1264 361.25V381.2h1V361.25zM1271 361.25V373.9h1V361.25zM1278 361.25V394.8h1V361.25zM1281 361.25V389.0h1V361.25z" fill="#fb9a93"/>
<path d="M123 361.25V366.9h1V361.25zM133 361.25V380.7h1V361.25zM150 361.25V380.7h1V361.25zM160 361.25V369.0h1V361.25zM204 361.25V378.0h1V361.25zM221 361.25V388.5h1V361.25zM231 361.25V374.2h1V361.25zM248 361.25V424.1h1V361.25zM258 361.25V491.0h1V361.25zM275 361.25V522.8h1V361.25zM292 361.25V488.6h1V361.25zM302 361.25V473.3h1V361.25zM319 361.25V524.0h1V361.25zM329 361.25V537.3h1V361.25zM346 361.25V539.6h1V361.25zM373 361.25V436.0h1V361.25zM630 361.25V414.3h1V361.25zM640 361.25V391.3h1V361.25zM657 361.25V418.7h1V361.25zM667 361.25V408.7h1V361.25zM684 361.25V476.7h1V361.25zM711 361.25V381.4h1V361.25zM728 361.25V415.5h1V361.25zM738 361.25V435.9h1V361.25zM755 361.25V434.0h1V361.25zM765 361.25V390.2h1V361.25zM782 361.25V392.3h1V361.25zM799 361.25V394.2h1V361.25zM809 361.25V368.0h1V361.25zM826 361.25V385.1h1V361.25zM836 361.25V378.2h1V361.25zM1022 361.25V369.0h1V361.25zM1049 361.25V444.8h1V361.25zM1066 361.25V369.0h1V361.25zM1076 361.25V369.0h1V361.25zM1093 361.25V369.0h1V361.25zM1103 361.25V369.0h1V361.25zM1191 361.25V369.3h1V361.25zM1218 361.25V369.3h1V361.25zM1235 361.25V369.3h1V361.25zM1272 361.25V373.8h1V361.25z" fill="#ffcbc5"/>

<g opacity="0.13"><text transform="translate(486.6 347.2) scale(1.0 1)" font-size="82" fill="#777" stroke="#777" stroke-width="1.8" stroke-linejoin="round">g</text><text transform="translate(538.2 347.2) scale(1.0 1)" font-size="82" fill="#777" stroke="#777" stroke-width="1.8" stroke-linejoin="round">l</text><text transform="translate(555.8 347.2) scale(1.2 1)" font-size="82" fill="#777" stroke="#777" stroke-width="1.8" stroke-linejoin="round">a</text><text transform="translate(616.7 347.2) scale(0.94 1)" font-size="82" fill="#777" stroke="#777" stroke-width="1.8" stroke-linejoin="round">s</text><text transform="translate(653.7 347.2) scale(0.94 1)" font-size="82" fill="#777" stroke="#777" stroke-width="1.8" stroke-linejoin="round">s</text><text transform="translate(687.1 347.2) scale(1.08 1)" font-size="82" fill="#777" stroke="#777" stroke-width="1.8" stroke-linejoin="round">n</text><text transform="translate(737.2 347.2) scale(1.12 1)" font-size="82" fill="#777" stroke="#777" stroke-width="1.8" stroke-linejoin="round">o</text><text transform="translate(790.3 347.2) scale(1.1 1)" font-size="82" fill="#777" stroke="#777" stroke-width="1.8" stroke-linejoin="round">d</text><text transform="translate(838.0 347.2) scale(1.15 1)" font-size="82" fill="#777" stroke="#777" stroke-width="1.8" stroke-linejoin="round">e</text></g>
<rect x="1220.2" y="354.3" width="0.9" height="15" fill="#8a9aa6"/>
<line x1="88.5" y1="396.5" x2="1283.5" y2="396.5" stroke="#9a9a9a" stroke-width="0.6" stroke-dasharray="2 1.3"/>
<path d="M88.75 577.00 L91.25 576.25 L93.75 575.00 L96.25 575.00 L98.75 577.50 L101.25 580.00 L103.75 580.75 L106.25 579.50 L108.00 572.50 L110.50 572.00 L112.50 567.50 L114.50 564.50 L116.50 564.00 L117.50 550.00 L119.00 545.00 L120.75 542.00 L123.00 544.50 L125.00 542.50 L127.50 541.25 L130.75 538.00 L133.00 540.00 L135.50 539.50 L138.00 538.75 L140.50 535.00 L143.00 528.25 L145.50 528.75 L147.50 532.00 L149.00 536.25 L150.75 525.00 L152.00 532.50 L154.50 531.25 L157.00 527.00 L159.00 534.50 L160.50 527.50 L163.75 525.50 L167.50 527.00 L170.50 525.00 L172.50 523.75 L174.50 517.50 L176.25 513.75 L177.50 502.50 L179.00 493.75 L180.75 495.50 L182.50 493.00 L185.50 495.00 L187.00 502.50 L188.00 508.00 L190.00 500.00 L192.00 502.00 L194.00 503.75 L195.75 507.00 L197.50 501.25 L199.50 500.00 L201.25 495.00 L203.75 494.50 L206.25 497.00 L208.00 500.00 L210.00 498.00 L212.50 503.75 L215.00 503.00 L217.00 493.75 L218.50 489.50 L220.00 500.00 L222.00 493.25 L225.00 494.50 L226.50 491.25 L227.25 480.00 L229.50 482.00 L231.50 483.00 L233.00 499.50 L235.00 501.25 L236.25 505.50 L238.00 498.75 L240.00 501.25 L242.00 507.00 L245.00 506.25 L247.00 516.25 L249.00 514.50 L251.25 514.50 L253.00 505.00 L255.00 503.00 L257.50 498.25 L259.50 500.00 L262.00 498.75 L264.50 499.50 L267.00 500.50 L268.75 498.75 L270.50 490.00 L272.50 480.00 L275.00 472.50 L277.50 464.50 L280.00 456.25 L282.50 454.25 L285.00 454.50 L288.00 453.75 L290.75 457.00 L292.50 459.50 L294.50 456.25 L296.25 450.00 L297.50 435.00 L300.00 402.50 L303.75 401.00 L306.00 395.00 L307.00 372.50 L308.75 390.00 L311.00 375.00 L315.00 368.75 L317.00 352.50 L320.00 348.75 L322.00 360.00 L323.75 380.00 L325.00 387.50 L326.00 372.50 L328.75 403.75 L330.00 380.00 L331.00 395.00 L333.75 395.00 L336.00 367.50 L338.75 365.00 L341.00 360.00 L342.50 365.00 L345.00 357.50 L346.25 365.00 L348.00 386.00 L350.00 375.00 L353.75 368.75 L356.25 356.00 L358.00 366.00 L360.50 362.50 L362.50 377.50 L364.50 387.50 L367.50 396.00 L369.50 406.00 L371.00 395.00 L373.75 390.00 L377.00 380.00 L378.75 390.00 L381.00 393.75 L383.75 396.00 L386.00 396.00 L388.00 410.00 L390.00 422.50 L392.00 400.00 L394.50 393.75 L397.50 400.00 L399.00 404.00 L400.00 400.00 L401.25 408.75 L403.00 411.25 L405.00 405.00 L406.50 400.00 L407.50 406.25 L408.75 390.00 L410.00 383.00 L411.75 383.75 L413.00 378.75 L414.50 382.00 L415.75 358.75 L417.00 357.50 L418.75 365.00 L420.75 373.75 L422.50 370.00 L424.25 368.00 L425.75 369.50 L427.50 372.50 L429.50 376.25 L431.25 375.00 L433.75 375.50 L435.75 370.00 L437.50 360.00 L439.50 358.00 L441.25 361.25 L442.50 366.25 L445.00 365.50 L447.00 371.25 L448.25 377.50 L449.50 375.00 L451.25 381.25 L452.50 383.75 L455.00 381.25 L457.00 386.25 L459.50 390.00 L461.25 393.00 L463.00 393.75 L464.50 400.00 L465.75 411.25 L467.50 407.50 L469.50 411.25 L471.25 410.00 L472.50 412.50 L474.25 401.25 L475.75 400.00 L477.50 405.00 L479.00 415.00 L480.50 426.25 L482.00 428.75 L483.00 423.75 L484.25 435.00 L485.75 431.25 L487.00 425.00 L488.75 427.00 L490.50 426.25 L492.50 420.00 L494.50 410.00 L495.75 397.50 L497.00 390.00 L498.25 389.50 L499.50 393.00 L501.25 383.75 L503.00 376.25 L504.50 373.75 L506.25 376.25 L508.00 385.00 L510.00 386.25 L511.25 376.25 L513.00 373.75 L515.00 373.75 L516.50 378.75 L518.00 385.00 L519.50 390.00 L520.75 388.75 L522.00 402.50 L523.25 411.25 L524.50 420.00 L525.50 437.50 L526.25 443.75 L527.50 438.75 L528.75 430.00 L530.00 406.25 L531.25 405.50 L532.50 410.00 L533.75 418.75 L535.00 413.75 L536.50 411.25 L538.00 417.50 L539.50 422.50 L540.50 425.00 L542.00 417.50 L543.50 420.00 L545.00 416.25 L546.50 418.75 L548.00 410.00 L549.50 411.25 L550.75 400.00 L552.00 393.75 L553.75 392.50 L555.00 395.00 L556.25 405.00 L557.50 416.25 L559.50 418.00 L561.25 419.50 L563.00 421.25 L564.25 426.25 L565.50 418.75 L567.00 427.00 L568.50 425.00 L570.00 433.75 L571.25 443.00 L572.50 443.75 L573.75 440.00 L575.00 432.50 L576.25 427.00 L578.00 426.25 L579.50 420.00 L581.00 412.50 L582.00 411.25 L583.75 417.50 L585.50 422.50 L587.00 413.75 L588.75 405.00 L590.50 398.75 L592.50 397.00 L594.50 396.25 L596.25 397.50 L597.50 392.50 L598.75 397.50 L600.00 386.25 L602.00 384.50 L603.75 385.50 L605.00 395.00 L606.25 406.25 L608.00 411.25 L610.00 410.00 L611.25 403.75 L613.00 401.25 L614.50 400.00 L616.25 403.75 L617.50 410.00 L619.00 412.50 L620.50 402.50 L622.00 398.75 L623.75 397.50 L625.00 383.75 L626.25 378.75 L628.00 376.25 L630.00 375.00 L632.00 371.25 L633.75 370.00 L635.00 376.25 L637.00 377.50 L638.75 373.75 L640.00 378.75 L641.25 380.00 L643.00 375.00 L644.50 366.25 L646.00 352.50 L647.50 350.00 L648.75 355.00 L650.00 362.50 L652.00 367.50 L653.75 370.50 L655.00 375.00 L656.25 365.00 L657.50 336.25 L659.50 333.75 L661.25 330.50 L662.50 328.75 L663.25 315.00 L664.25 292.00 L665.50 271.25 L667.00 267.50 L668.00 261.25 L669.25 276.25 L670.50 260.00 L672.00 259.50 L673.75 263.75 L675.50 256.25 L677.00 250.00 L678.25 235.00 L679.50 221.25 L680.75 218.75 L682.50 223.75 L683.75 225.00 L685.00 247.50 L686.25 253.75 L687.50 235.00 L689.25 231.25 L690.75 226.25 L692.00 230.00 L693.00 227.50 L694.50 233.75 L696.25 231.25 L697.50 220.00 L699.00 226.25 L700.50 215.00 L702.00 213.75 L703.25 207.50 L704.50 222.50 L706.25 230.00 L707.50 210.00 L709.00 212.50 L710.50 207.00 L712.00 206.25 L713.25 195.00 L714.50 185.00 L716.00 183.25 L717.00 195.00 L717.50 212.50 L719.50 225.00 L721.25 226.25 L722.50 232.50 L723.75 238.75 L725.00 240.00 L726.25 218.75 L727.50 217.00 L728.75 232.50 L730.00 238.75 L731.75 237.50 L733.00 245.00 L734.50 250.00 L735.75 248.75 L737.50 237.50 L739.50 223.75 L741.25 222.50 L743.00 220.00 L744.50 202.50 L745.75 230.00 L747.50 242.50 L748.75 251.25 L750.00 241.25 L751.75 240.00 L753.75 241.25 L755.00 240.00 L756.25 227.50 L757.50 215.00 L759.00 211.25 L760.00 196.25 L761.50 192.50 L763.00 205.00 L764.50 200.00 L765.50 188.75 L766.50 183.75 L768.00 193.75 L770.00 190.00 L772.00 191.25 L773.75 200.00 L775.75 206.25 L777.50 192.50 L778.75 190.00 L780.00 197.50 L781.75 210.00 L783.25 225.00 L784.50 207.50 L786.00 220.00 L787.50 228.75 L789.50 230.50 L792.00 231.25 L794.25 230.00 L795.00 226.25 L796.00 233.75 L797.50 225.00 L799.25 227.50 L800.75 226.25 L802.50 230.00 L804.50 233.75 L806.25 234.50 L807.50 227.50 L808.75 222.50 L810.00 230.00 L812.00 231.25 L813.25 235.00 L814.25 250.00 L815.50 267.50 L816.50 282.50 L817.50 292.50 L820.00 292.00 L821.25 275.00 L822.00 260.00 L823.00 242.50 L823.75 266.25 L824.50 281.25 L825.50 273.75 L826.50 260.00 L828.00 262.50 L829.00 270.00 L830.00 280.00 L831.25 281.25 L832.00 292.50 L833.00 306.25 L834.00 317.50 L834.50 321.25 L835.50 307.50 L836.50 296.25 L837.50 295.00 L838.25 307.50 L839.25 300.00 L840.50 293.75 L842.00 296.25 L843.00 292.50 L844.00 300.00 L845.50 295.00 L846.50 280.00 L847.50 286.25 L848.75 293.75 L850.50 294.50 L852.00 287.50 L853.25 277.50 L854.50 276.25 L856.25 278.00 L858.00 278.00 L859.25 283.75 L860.50 295.00 L861.50 301.25 L863.00 300.00 L864.25 295.00 L865.50 288.75 L866.50 300.00 L868.00 298.75 L869.50 295.00 L870.75 298.75 L872.00 308.75 L873.00 321.25 L874.25 320.00 L875.25 332.00 L876.25 316.25 L877.00 301.25 L878.00 311.25 L879.00 305.00 L880.00 293.75 L881.25 288.00 L882.50 292.50 L884.00 291.25 L885.50 294.50 L887.00 290.50 L888.75 288.75 L890.75 288.00 L892.50 287.50 L893.50 275.00 L894.50 260.00 L895.50 246.25 L897.50 243.75 L899.50 241.25 L901.00 239.50 L902.50 243.75 L904.00 240.00 L905.50 241.25 L907.00 233.75 L908.75 230.00 L910.00 231.25 L911.25 237.50 L913.00 240.00 L914.50 235.00 L916.25 228.75 L917.50 213.75 L918.00 202.50 L919.25 197.50 L920.75 191.25 L922.50 193.75 L924.00 198.75 L925.50 195.00 L927.50 196.25 L929.50 196.25 L930.75 197.50 L932.00 187.50 L933.00 182.50 L934.00 185.00 L935.00 177.50 L936.25 165.00 L937.50 157.50 L938.25 155.50 L939.25 165.00 L940.00 176.25 L941.50 170.00 L943.00 166.25 L944.50 167.50 L946.25 173.75 L947.50 181.25 L949.00 188.75 L950.00 192.50 L951.50 187.50 L953.00 184.50 L954.50 185.50 L956.00 190.00 L957.00 195.00 L958.00 205.00 L959.25 192.50 L960.50 186.25 L961.75 183.75 L963.00 170.00 L964.00 162.00 L965.25 163.00 L966.50 172.50 L967.75 183.75 L969.50 185.50 L971.25 186.25 L973.00 180.00 L974.00 185.00 L975.00 189.50 L977.00 191.25 L978.75 197.50 L980.50 203.75 L981.75 207.50 L983.00 192.50 L984.50 183.75 L986.25 177.50 L988.00 177.50 L990.00 176.25 L992.00 172.00 L993.75 177.50 L995.00 184.50 L996.25 170.00 L997.50 166.25 L998.75 172.50 L1000.50 170.00 L1002.00 168.75 L1003.50 171.25 L1005.00 163.75 L1006.25 150.00 L1007.50 132.50 L1009.00 126.25 L1010.50 123.75 L1011.75 117.50 L1012.75 114.50 L1014.00 118.75 L1015.00 123.75 L1016.25 118.75 L1018.00 117.50 L1019.50 122.50 L1021.25 125.00 L1023.00 126.25 L1024.25 117.50 L1025.25 114.50 L1026.50 118.75 L1028.00 122.50 L1029.50 124.50 L1031.00 118.75 L1032.00 116.25 L1033.25 121.25 L1034.50 123.75 L1036.25 125.50 L1037.50 135.00 L1038.75 143.75 L1040.25 150.50 L1041.50 145.00 L1043.00 138.75 L1044.50 142.50 L1046.00 133.75 L1047.50 127.00 L1048.75 130.00 L1050.00 128.75 L1051.25 118.75 L1052.50 117.00 L1053.75 116.25 L1055.00 106.25 L1056.00 96.25 L1057.00 110.00 L1058.00 122.50 L1059.50 125.50 L1061.25 126.25 L1062.50 130.00 L1063.75 140.00 L1065.00 148.75 L1066.25 142.50 L1067.50 150.00 L1068.75 130.00 L1070.00 133.75 L1071.25 142.50 L1072.50 153.75 L1073.50 162.00 L1074.50 155.00 L1076.00 156.25 L1077.00 151.25 L1078.00 163.75 L1079.00 171.25 L1080.50 170.00 L1082.00 171.25 L1083.50 162.50 L1085.00 156.25 L1086.25 155.00 L1088.00 158.75 L1089.50 161.25 L1090.75 162.50 L1092.00 156.25 L1093.25 153.75 L1094.50 152.50 L1095.75 142.50 L1097.00 135.50 L1098.75 133.00 L1100.50 136.25 L1102.00 135.50 L1103.25 130.00 L1104.50 131.25 L1105.75 129.50 L1107.00 128.00 L1108.25 134.50 L1110.00 135.50 L1111.25 140.00 L1112.50 147.50 L1113.75 152.50 L1115.00 147.50 L1116.00 155.00 L1117.00 167.50 L1118.75 165.50 L1120.00 164.50 L1121.25 152.50 L1122.50 143.00 L1124.00 142.50 L1125.00 127.50 L1126.25 116.25 L1127.50 107.50 L1128.50 102.00 L1129.75 101.25 L1130.75 96.25 L1131.75 91.25 L1132.75 90.00 L1133.75 97.50 L1134.50 106.25 L1135.50 97.00 L1136.50 102.50 L1137.50 120.00 L1138.50 140.00 L1139.50 158.75 L1140.50 147.50 L1141.50 138.75 L1142.50 137.50 L1143.75 143.75 L1145.00 155.00 L1146.25 167.50 L1147.50 176.25 L1148.50 180.50 L1150.00 177.50 L1151.25 167.50 L1152.50 161.25 L1153.75 166.25 L1155.00 174.50 L1156.25 168.75 L1157.50 160.00 L1159.50 155.00 L1160.50 145.00 L1161.50 140.50 L1163.00 142.50 L1164.00 151.25 L1165.50 161.25 L1167.00 170.50 L1168.25 166.25 L1169.50 162.50 L1171.00 161.25 L1172.00 172.50 L1173.00 185.00 L1174.00 205.00 L1175.00 195.00 L1176.00 206.25 L1177.00 198.75 L1178.25 202.00 L1179.25 197.50 L1180.50 190.00 L1181.75 185.00 L1182.75 183.75 L1183.75 195.00 L1185.00 202.50 L1186.25 212.50 L1187.50 225.00 L1188.50 235.00 L1189.25 240.00 L1190.00 237.00 L1191.00 241.25 L1192.25 248.75 L1193.00 252.50 L1194.00 249.50 L1195.00 256.25 L1196.00 268.75 L1197.25 280.00 L1198.50 287.50 L1199.75 289.50 L1201.00 281.25 L1202.25 272.50 L1203.50 275.00 L1204.75 265.00 L1206.00 258.75 L1207.25 257.00 L1209.00 258.75 L1210.50 261.25 L1211.50 272.50 L1212.25 282.50 L1213.00 268.75 L1214.00 253.75 L1215.00 247.00 L1216.50 251.25 L1217.50 261.25 L1218.50 267.00 L1220.00 266.25 L1221.50 262.50 L1222.50 256.25 L1223.50 251.25 L1225.00 250.75 L1226.50 252.50 L1228.00 260.00 L1229.50 263.75 L1231.00 272.50 L1232.25 281.25 L1233.50 276.25 L1234.50 281.25 L1235.50 285.00 L1236.75 286.25 L1237.75 275.00 L1239.00 272.50 L1240.50 271.25 L1242.25 271.25 L1243.50 275.00 L1245.25 276.25 L1247.25 277.50 L1249.00 274.50 L1250.50 275.00 L1251.75 277.50 L1253.00 273.00 L1254.50 275.00 L1255.50 271.25 L1257.25 265.50 L1258.50 261.25 L1259.75 256.25 L1261.00 248.75 L1262.25 244.50 L1263.50 246.25 L1264.75 253.75 L1266.00 257.50 L1267.50 260.00 L1269.00 261.75 L1270.50 260.00 L1272.00 257.50 L1273.00 245.00 L1274.00 232.50 L1274.75 229.50 L1276.00 233.75 L1277.50 236.25 L1279.00 238.00 L1280.50 245.00 L1282.00 251.25 L1283.00 265.00 L1283.50 272.50" fill="none" stroke="#000" stroke-width="2.05" stroke-linejoin="round" stroke-linecap="round"/>
<circle cx="1283.5" cy="273" r="3.1" fill="#000"/>
<circle cx="1283.7" cy="396.8" r="2.4" fill="#d8473f"/>
<rect x="1292.1" y="62.5" width="1.9" height="547" fill="#000"/>
<text class="ax" x="74.6" y="111.75" text-anchor="end">500K</text>
<text class="ax" x="74.6" y="162.39" text-anchor="end">400K</text>
<text class="ax" x="74.6" y="213.03" text-anchor="end">300K</text>
<text class="ax" x="74.6" y="263.67" text-anchor="end">200K</text>
<text class="ax" x="74.6" y="314.31" text-anchor="end">100K</text>
<text class="ax" x="74.6" y="364.95" text-anchor="end">0</text>
<text class="ax" x="74.6" y="415.59" text-anchor="end">-100K</text>
<text class="ax" x="74.6" y="466.23" text-anchor="end">-200K</text>
<text class="ax" x="74.6" y="516.87" text-anchor="end">-300K</text>
<text class="ax" x="74.6" y="567.51" text-anchor="end">-400K</text>
<text class="ax" x="1299.6" y="66.70">$130k</text>
<text class="ax" x="1299.6" y="116.80">$120k</text>
<text class="ax" x="1299.6" y="166.90">$110k</text>
<text class="ax" x="1299.6" y="217.00">$100k</text>
<text class="ax" x="1299.6" y="267.10">$90k</text>
<text class="ax" x="1299.6" y="317.20">$80k</text>
<text class="ax" x="1299.6" y="367.30">$70k</text>
<text class="ax" x="1299.6" y="417.40">$60k</text>
<text class="ax" x="1299.6" y="467.50">$50k</text>
<text class="ax" x="1299.6" y="517.60">$40k</text>
<text class="ax" x="1299.6" y="567.70">$30k</text>
<text class="ax" x="173.25" y="632.1" text-anchor="middle" style="font-size:11.1px">Dec '23</text>
<text class="ax" x="261.31" y="632.1" text-anchor="middle" style="font-size:11.1px">Feb '24</text>
<text class="ax" x="346.53" y="632.1" text-anchor="middle" style="font-size:11.1px">Apr '24</text>
<text class="ax" x="433.16" y="632.1" text-anchor="middle" style="font-size:11.1px">Jun '24</text>
<text class="ax" x="519.80" y="632.1" text-anchor="middle" style="font-size:11.1px">Aug '24</text>
<text class="ax" x="606.44" y="632.1" text-anchor="middle" style="font-size:11.1px">Oct '24</text>
<text class="ax" x="693.08" y="632.1" text-anchor="middle" style="font-size:11.1px">Dec '24</text>
<text class="ax" x="781.14" y="632.1" text-anchor="middle" style="font-size:11.1px">Feb '25</text>
<text class="ax" x="864.94" y="632.1" text-anchor="middle" style="font-size:11.1px">Apr '25</text>
<text class="ax" x="951.57" y="632.1" text-anchor="middle" style="font-size:11.1px">Jun '25</text>
<text class="ax" x="1038.21" y="632.1" text-anchor="middle" style="font-size:11.1px">Aug '25</text>
<text class="ax" x="1124.85" y="632.1" text-anchor="middle" style="font-size:11.1px">Oct '25</text>
<text class="ax" x="1211.49" y="632.1" text-anchor="middle" style="font-size:11.1px">Dec '25</text>
<circle cx="42" cy="32" r="3.4" fill="#6bb58a"/><text class="lg" x="49.2" y="35.9">BTC: Long-Term Holder Net Position Change</text>
<circle cx="296.7" cy="32" r="3.4" fill="#d8473f"/><text class="lg" x="304.4" y="35.9">BTC: Long-Term Holder Net Position Change</text>
<circle cx="551" cy="32" r="3.4" fill="#000"/><text class="lg" x="559.3" y="35.9" textLength="86.1" lengthAdjust="spacingAndGlyphs">BTC: Price [USD]</text>
<rect x="1216" y="26.3" width="75" height="21.2" rx="2" fill="#f7f7f7"/><text x="1253.5" y="40.9" text-anchor="middle" font-size="11.2" fill="#3c3c3c">Reset zoom</text>
<rect x="1306" y="23.7" width="27.5" height="27.6" rx="2" fill="#f7f7f7"/>
<g fill="none" stroke="#444" stroke-width="1.2" stroke-linejoin="round"><path d="M1314.6 33.6h2.6l1.1-1.7h3.9l1.1 1.7h2.6v7.3h-11.3z"/><circle cx="1320.25" cy="37.1" r="2.1"/></g>
<g filter="url(#tsh)"><rect x="925.5" y="369.3" width="338.3" height="54.4" rx="2" fill="#fff"/></g>
<text x="933.2" y="384.8" font-size="9.25" fill="#333">Tuesday, Jan 20 2026 UTC</text>
<circle cx="937.2" cy="395.6" r="3.5" fill="#d8473f"/><text x="948.7" y="399.4" font-size="10.72" fill="#333">BTC: Long-Term Holder Net Position Change: <tspan font-weight="bold" fill="#222" font-size="10.9" dx="0.6">-68,647.75218521</tspan></text>
<circle cx="937.2" cy="408.9" r="3.5" fill="#000"/><text x="948.7" y="412.6" font-size="10.72" fill="#333">BTC: Price [USD]: <tspan font-weight="bold" fill="#222" font-size="11.1" dx="1.2">$88,346.89</tspan></text>
<text x="357.7" y="681.4" font-size="30.5" font-style="italic" fill="#111" stroke="#111" stroke-width="0.35" textLength="653" lengthAdjust="spacingAndGlyphs">Bitcoin: LTH net position change. Source: Glassnode</text>
<g filter="url(#wsh)" fill="#fff"><text x="1088.2" y="672.6" font-size="21.5" textLength="19.8" lengthAdjust="spacingAndGlyphs">@</text><text x="1115.2" y="675.0" font-size="23.6" textLength="224" lengthAdjust="spacingAndGlyphs">Waseem Ahmad mir</text></g><g filter="url(#wsh2)" fill="#fff">
<path d="M1068.9 662.8L1072.5 666.4L1068.9 670.0L1065.3000000000002 666.4zM1057.7 663.3L1060.8 666.4L1057.7 669.5L1054.6000000000001 666.4zM1080.1000000000001 663.3L1083.2 666.4L1080.1000000000001 669.5L1077.0000000000002 666.4z"/>
<path d="M1068.9 652.6999999999999L1077.5 661.3L1074.4 664.4L1068.9 658.9L1063.4 664.4L1060.3000000000002 661.3z"/>
<path d="M1068.9 680.1L1077.5 671.5L1074.4 668.4L1068.9 673.9L1063.4 668.4L1060.3000000000002 671.5z"/>
</g>
</svg></body></html>
